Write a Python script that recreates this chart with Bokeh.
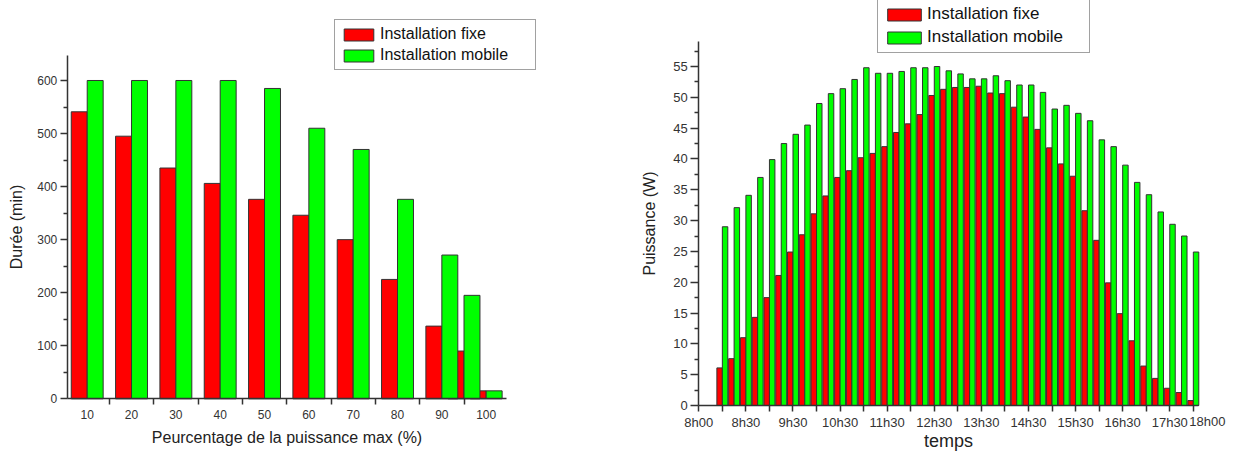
from bokeh.plotting import figure
from bokeh.models import (ColumnDataSource, Range1d, FixedTicker, Legend, LegendItem, Label)
from bokeh.transform import dodge
from bokeh.layouts import row
from bokeh.embed import file_html
from bokeh.resources import INLINE

# ---------------- data: left chart ----------------
pct = [10, 20, 30, 40, 50, 60, 70, 80, 90, 95, 100]
duree_fixe = [541, 495, 435, 406, 376, 346, 300, 225, 137, 90, 15]
duree_mobile = [600, 600, 600, 600, 585, 510, 470, 376, 271, 195, 15]
left_ticks = [10, 20, 30, 40, 50, 60, 70, 80, 90, 100]
left_minor = [15, 25, 35, 45, 55, 65, 75, 85, 95]
left_yticks = [0, 100, 200, 300, 400, 500, 600]
left_yminor = [50, 150, 250, 350, 450, 550]

# ---------------- data: right chart ----------------
temps = ["8h00", "8h15", "8h30", "8h45", "9h00", "9h15", "9h30", "9h45",
         "10h00", "10h15", "10h30", "10h45", "11h00", "11h15", "11h30", "11h45",
         "12h00", "12h15", "12h30", "12h45", "13h00", "13h15", "13h30", "13h45",
         "14h00", "14h15", "14h30", "14h45", "15h00", "15h15", "15h30", "15h45",
         "16h00", "16h15", "16h30", "16h45", "17h00", "17h15", "17h30", "17h45", "18h00"]
puissance_fixe = [6.1, 7.6, 11.0, 14.3, 17.5, 21.1, 24.9, 27.7, 31.1, 34.0, 37.0,
                  38.1, 40.2, 40.9, 42.0, 44.3, 45.7, 47.2, 50.3, 51.3, 51.6, 51.6,
                  51.8, 50.7, 50.6, 48.4, 46.8, 44.8, 41.8, 39.2, 37.2, 31.6, 26.8,
                  19.9, 14.9, 10.5, 6.4, 4.4, 2.8, 2.1, 0.8]
puissance_mobile = [29.0, 32.1, 34.1, 37.0, 39.9, 42.5, 44.0, 45.5, 49.0, 50.6, 51.4,
                    52.9, 54.8, 53.9, 53.9, 54.2, 54.8, 54.8, 55.0, 54.3, 53.8, 53.0,
                    53.0, 53.5, 52.7, 52.0, 52.0, 50.8, 48.1, 48.7, 47.4, 46.2, 43.1,
                    42.0, 39.0, 36.2, 34.2, 31.4, 29.4, 27.5, 24.9]
right_tick_hours = [7.5, 8.0, 8.5, 9.0, 9.5, 10.0, 10.5, 11.0, 11.5, 12.0, 12.5, 13.0,
                    13.5, 14.0, 14.5, 15.0, 15.5, 16.0, 16.5, 17.0, 17.5, 18.0]
right_tick_labels = ["8h00", "", "8h30", "", "9h30", "", "10h30", "", "11h30", "",
                     "12h30", "", "13h30", "", "14h30", "", "15h30", "", "16h30", "",
                     "17h30", "18h00"]
right_yticks = [0, 5, 10, 15, 20, 25, 30, 35, 40, 45, 50, 55]
right_yminor = [2.5, 7.5, 12.5, 17.5, 22.5, 27.5, 32.5, 37.5, 42.5, 47.5, 52.5, 57.5]


def to_hours(s):
    h, m = s.split("h")
    return int(h) + int(m) / 60.0


RED = "#FF0000"
GREEN = "#00FF00"
EDGE = "#333333"
FONT = "Liberation Sans"
AX = "#333333"


def style_axes(p, tick_size, label_size):
    p.xgrid.visible = False
    p.ygrid.visible = False
    p.outline_line_color = None
    p.background_fill_color = "white"
    p.border_fill_color = "white"
    for ax in (p.xaxis[0], p.yaxis[0]):
        ax.axis_line_color = AX
        ax.axis_line_width = 1.5
        ax.major_tick_line_color = AX
        ax.minor_tick_line_color = AX
        ax.major_tick_line_width = 1.5
        ax.minor_tick_line_width = 1.5
        ax.major_tick_in = 0
        ax.minor_tick_in = 0
        ax.major_label_text_font = FONT
        ax.major_label_text_font_size = tick_size
        ax.major_label_text_color = "#333333"
        ax.axis_label_text_font = FONT
        ax.axis_label_text_font_size = label_size
        ax.axis_label_text_font_style = "normal"
        ax.axis_label_text_color = "#222222"
        ax.major_label_standoff = 3


# ---------------- left figure (frame fills the whole figure) ----------------
src1 = ColumnDataSource(dict(x=pct, fixe=duree_fixe, mobile=duree_mobile))
p1 = figure(width=600, height=454, x_range=Range1d(-9.56, 125.79), y_range=Range1d(-105.0, 750.8),
            output_backend="svg", toolbar_location=None,
            min_border_left=0, min_border_right=0, min_border_top=0, min_border_bottom=0)
r1 = p1.vbar(x=dodge("x", -1.8, range=p1.x_range), top="fixe", width=3.6, source=src1,
             fill_color=RED, line_color=EDGE, line_width=1)
r2 = p1.vbar(x=dodge("x", 1.8, range=p1.x_range), top="mobile", width=3.6, source=src1,
             fill_color=GREEN, line_color=EDGE, line_width=1)
style_axes(p1, "12px", "16px")
p1.xaxis.fixed_location = 0
p1.yaxis.fixed_location = 5.5
p1.xaxis.bounds = (5.5, 104.5)
p1.yaxis.bounds = (0, 647)
p1.xaxis.ticker = FixedTicker(ticks=left_ticks, minor_ticks=left_minor)
p1.xaxis.major_tick_out = 0
p1.xaxis.minor_tick_out = 6
p1.xaxis.major_label_standoff = 5
p1.yaxis.ticker = FixedTicker(ticks=left_yticks, minor_ticks=left_yminor)
p1.yaxis.major_tick_out = 7
p1.yaxis.minor_tick_out = 4
p1.xaxis.axis_label = "Peurcentage de la puissance max (%)"
p1.yaxis.axis_label = "Durée (min)"
p1.xaxis.axis_label_standoff = 7
p1.yaxis.axis_label_standoff = 9

leg1 = Legend(items=[LegendItem(label="Installation fixe", renderers=[r1]),
                     LegendItem(label="Installation mobile", renderers=[r2])],
              location=(334, 384), orientation="vertical",
              glyph_width=37, glyph_height=15, label_height=17, label_width=150, spacing=3,
              padding=5, margin=0, label_standoff=3,
              label_text_font=FONT, label_text_font_size="16px", label_text_color="#111111",
              border_line_color="#444444", border_line_width=1,
              background_fill_color="white", background_fill_alpha=1)
p1.add_layout(leg1, "center")

# ---------------- right figure (frame fills the whole figure) ----------------
hours = [to_hours(t) for t in temps]
src2 = ColumnDataSource(dict(x=hours, fixe=puissance_fixe, mobile=puissance_mobile))
p2 = figure(width=634, height=454, x_range=Range1d(5.413, 18.874), y_range=Range1d(-7.95, 65.71),
            output_backend="svg", toolbar_location=None,
            min_border_left=0, min_border_right=0, min_border_top=0, min_border_bottom=0)
q1 = p2.vbar(x=dodge("x", -0.058, range=p2.x_range), top="fixe", width=0.116, source=src2,
             fill_color=RED, line_color=EDGE, line_width=1)
q2 = p2.vbar(x=dodge("x", 0.058, range=p2.x_range), top="mobile", width=0.116, source=src2,
             fill_color=GREEN, line_color=EDGE, line_width=1)
style_axes(p2, "13px", "16px")
p2.xaxis.fixed_location = 0
p2.yaxis.fixed_location = 7.5
p2.xaxis.bounds = (7.5, 18.11)
p2.yaxis.bounds = (0, 59)
p2.xaxis.ticker = FixedTicker(ticks=right_tick_hours)
# the last label ("18h00") is drawn separately, shifted right as in the original
overrides = {h: l for h, l in zip(right_tick_hours, right_tick_labels)}
last_hour, last_label = right_tick_hours[-1], right_tick_labels[-1]
overrides[last_hour] = ""
p2.xaxis.major_label_overrides = overrides
p2.xaxis.major_tick_out = 6
p2.xaxis.minor_tick_out = 0
p2.xaxis.major_label_standoff = 3
p2.yaxis.ticker = FixedTicker(ticks=right_yticks, minor_ticks=right_yminor)
p2.yaxis.major_tick_out = 8
p2.yaxis.minor_tick_out = 4
p2.xaxis.axis_label = "temps"
p2.xaxis.axis_label_text_font_size = "18px"
p2.yaxis.axis_label = "Puissance (W)"
p2.xaxis.axis_label_standoff = -2
p2.yaxis.axis_label_standoff = 12

p2.add_layout(Label(x=last_hour, y=0, text=last_label, x_offset=-4, y_offset=-16,
                    text_font=FONT, text_font_size="13px", text_color="#333333",
                    text_baseline="middle", text_align="left"))

leg2 = Legend(items=[LegendItem(label="Installation fixe", renderers=[q1]),
                     LegendItem(label="Installation mobile", renderers=[q2])],
              location=(277, 401), orientation="vertical",
              glyph_width=42, glyph_height=15, label_height=17, label_width=157, spacing=3,
              padding=5, margin=0, label_standoff=2,
              label_text_font=FONT, label_text_font_size="17px", label_text_color="#111111",
              border_line_color="#444444", border_line_width=1,
              background_fill_color="white", background_fill_alpha=1)
p2.add_layout(leg2, "center")

layout = row(p1, p2)
open("out.html", "w").write(file_html(layout, INLINE))
